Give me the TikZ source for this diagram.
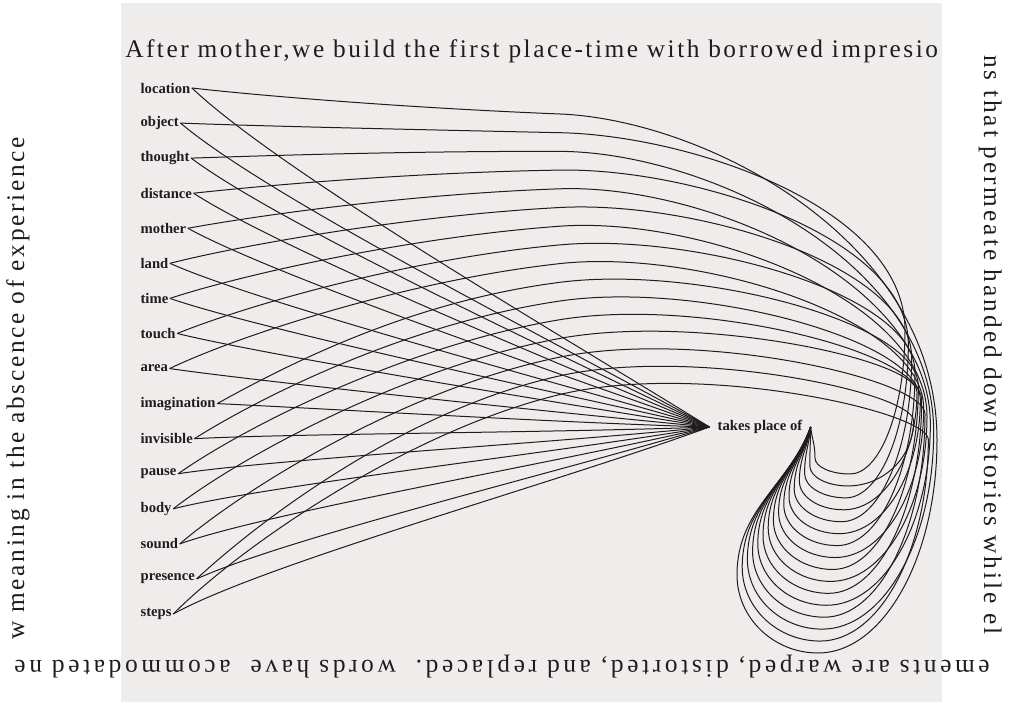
\documentclass[tikz,border=0pt]{standalone}
\usepackage{fontspec}
\setmainfont{Liberation Serif}
\newfontfamily\topfont[LetterSpace=9.9]{Liberation Serif}
\newfontfamily\rightfont[LetterSpace=11.9]{Liberation Serif}
\newfontfamily\bottomfont[LetterSpace=14.4]{Liberation Serif}
\newfontfamily\leftfont[LetterSpace=10.6]{Liberation Serif}
\definecolor{panel}{RGB}{239,237,236}
\definecolor{ink}{RGB}{30,28,28}
\begin{document}
\begin{tikzpicture}[x=0.75pt,y=-0.75pt,
  word/.style={font=\bfseries\fontsize{11}{13}\selectfont, inner sep=1pt, anchor=west, text=ink},
  border/.style={inner sep=0pt, text=ink, anchor=base west},
  link/.style={draw=ink, line width=0.75pt}]
\fill[white] (0,0) rectangle (1014,705);
\useasboundingbox (0,0) rectangle (1014,705);
\fill[panel] (121,3) rectangle (942,702);

\node[border, font=\topfont\fontsize{19}{22}\selectfont] (toptext) at (125,58) {After mother,we build the first place-time with borrowed impresio};
\node[border, rotate=-90, font=\rightfont\fontsize{19}{22}\selectfont] (righttext) at (984,55) {ns that permeate handed down stories while el};
\node[border, rotate=180, font=\bottomfont\fontsize{19}{22}\selectfont] (bottomtext) at (990,660) {ements are warped, distorted, and replaced.\ \ words have\ \ acommodated ne};
\node[border, rotate=90, font=\leftfont\fontsize{19}{22}\selectfont] (lefttext) at (24,640) {w meaning in the abscence of experience};

\foreach \w [count=\n from 0] in {location,object,thought,distance,mother,land,time,touch,area,imagination,invisible,pause,body,sound,presence,steps}
  \node[word] (w\n) at (139,{88+35.07*\n}) {\w};

\node[word, anchor=center, inner xsep=6pt] (hub) at (760,427) {takes place of};

% edges to the left end of the hub
\foreach \i in {0,...,15}{
  \pgfmathsetmacro\cA{85-135*\i/15}
  \pgfmathsetmacro\cB{-93+148*\i/15}
  \draw[link] (w\i.east) .. controls +(90,\cA) and +(-150,\cB) .. (hub.west);
}

% looping edges to the right end of the hub
\foreach \i in {0,...,15}{
  \pgfmathsetmacro\odd{mod(\i,2)}
  \pgfmathsetmacro\lp{ifthenelse(\odd==0,1-\i/15,(\i-1)/15)}
  \pgfmathsetmacro\Hb{114+18.7*\i}
  \pgfmathsetmacro\cY{\Hb-6+2.8*\i}
  \pgfmathsetmacro\dA{8-5.2*\i}
  \pgfmathsetmacro\Xr{ifthenelse(\odd==0,912+25*\lp,905+25*\lp)}
  \pgfmathsetmacro\Yr{ifthenelse(\odd==0,max(\Hb+45,380+60*\lp),max(\Hb+45,330+105*\lp))}
  \pgfmathsetmacro\aa{0.38*(\Xr-560)}
  \pgfmathsetmacro\sAx{560+\aa}
  \pgfmathsetmacro\sAy{\Hb+\aa*(\Hb-\cY)/150}
  \pgfmathsetmacro\sBy{\Yr-0.62*(\Yr-\Hb)}
  \pgfmathsetmacro\Bx{850-32*\lp}
  \pgfmathsetmacro\By{474+179*\lp}
  \pgfmathsetmacro\Lx{815-78*\lp}
  \pgfmathsetmacro\Ly{458+117*\lp}
  \pgfmathsetmacro\kA{\Yr+0.55*(\By-\Yr)}
  \pgfmathsetmacro\kBx{\Bx+0.55*(\Xr-\Bx)}
  \pgfmathsetmacro\kCx{\Bx-0.55*(\Bx-\Lx)}
  \pgfmathsetmacro\kDy{\Ly+0.55*(\By-\Ly)}
  \pgfmathsetmacro\kEy{\Ly-0.45*(\Ly-427)}
  \pgfmathsetmacro\kF{0.3*(810-\Lx)}
  \pgfmathsetmacro\kG{0.4*(\Ly-427)}
  \draw[link] (w\i.east) .. controls +(70,\dA) and (410,\cY) .. (560,\Hb)
     .. controls (\sAx,\sAy) and (\Xr,\sBy) .. (\Xr,\Yr)
     .. controls (\Xr,\kA) and (\kBx,\By) .. (\Bx,\By)
     .. controls (\kCx,\By) and (\Lx,\kDy) .. (\Lx,\Ly)
     .. controls (\Lx,\kEy) and +(-\kF,\kG) .. (hub.east);
}
\end{tikzpicture}
\end{document}
